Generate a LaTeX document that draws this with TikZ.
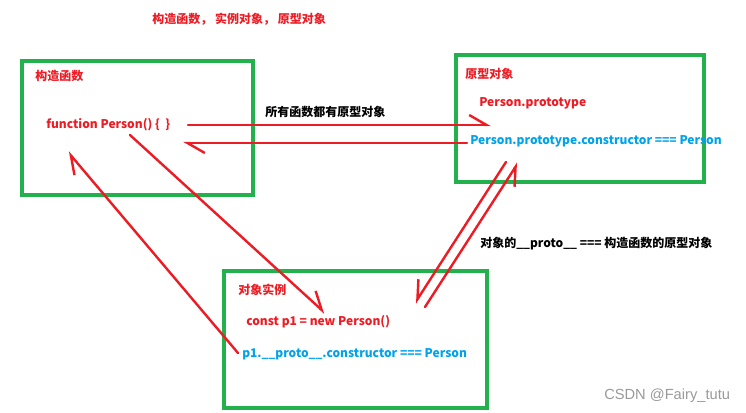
\documentclass[tikz,border=0pt]{standalone}
\usepackage{fontspec}
\setmainfont{Noto Sans CJK SC}
\newfontfamily\markfont{Liberation Sans}
\usepackage{xcolor}
\usetikzlibrary{arrows.meta}
\definecolor{pred}{RGB}{237,28,36}
\definecolor{pblue}{RGB}{0,162,232}
\definecolor{pgreen}{RGB}{34,177,76}

\begin{document}
\begin{tikzpicture}[x=0.75pt,y=-0.75pt,
  box/.style={draw=pgreen,line width=2.5pt},
  txt/.style={anchor=west,inner sep=0pt,font=\fontsize{9}{11}\selectfont\bfseries},
  redtxt/.style={txt,text=pred},
  bluetxt/.style={txt,text=pblue},
  link/.style={draw=pred,line width=1.8pt,line cap=round,-{Straight Barb[harpoon,length=13pt,width=15pt]}},
  linkr/.style={draw=pred,line width=1.8pt,line cap=round,-{Straight Barb[harpoon,swap,length=13pt,width=15pt]}}]
\useasboundingbox (0,0) rectangle (746,413);
% boxes
\draw[box] (22,61) rectangle (253,195);
\draw[box] (456,55) rectangle (704,182);
\draw[box] (224,271) rectangle (487,408);
% texts
\node[redtxt] (title) at (152,19) {构造函数， 实例对象， 原型对象};
\node[redtxt] (ctorlbl) at (35,76) {构造函数};
\node[redtxt] (func) at (46,125) {function Person() \{\ \ \}};
\node[txt] (alllbl) at (265,112) {所有函数都有原型对象};
\node[redtxt] (protolbl) at (465,74) {原型对象};
\node[redtxt] (proto) at (479,103) {Person.prototype};
\node[bluetxt] (ctor) at (470,141) {Person.prototype.constructor === Person};
\node[txt] (eqlbl) at (480,244) {对象的\_\_proto\_\_ === 构造函数的原型对象};
\node[redtxt] (instlbl) at (238,290) {对象实例};
\node[redtxt] (newp) at (246,322) {const p1 = new Person()};
\node[bluetxt] (p1ctor) at (242,354) {p1.\_\_proto\_\_.constructor === Person};
\node[anchor=west,inner sep=0pt,text=black!40,font=\markfont\fontsize{11}{13}\selectfont] (mark) at (604,396) {CSDN @Fairy\_tutu};
% arrow ends
\coordinate (fnOut) at (188,125);
\coordinate (protoIn) at (491,125);
\coordinate (ctorOut) at (467,143);
\coordinate (fnIn) at (183,143);
\coordinate (fnDown) at (130,135);
\coordinate (newIn) at (325,313);
\coordinate (p1Out) at (238,353);
\coordinate (fnUp) at (68,152);
\coordinate (protoDown) at (506,162);
\coordinate (instIn) at (415,303);
\coordinate (instOut) at (425,307);
\coordinate (protoUp) at (518,163);
% arrows
\draw[link] (fnOut) -- (protoIn);
\draw[link] (ctorOut) -- (fnIn);
\draw[link] (fnDown) -- (newIn);
\draw[link] (p1Out) -- (fnUp);
\draw[linkr] (protoDown) -- (instIn);
\draw[linkr] (instOut) -- (protoUp);
\end{tikzpicture}
\end{document}
